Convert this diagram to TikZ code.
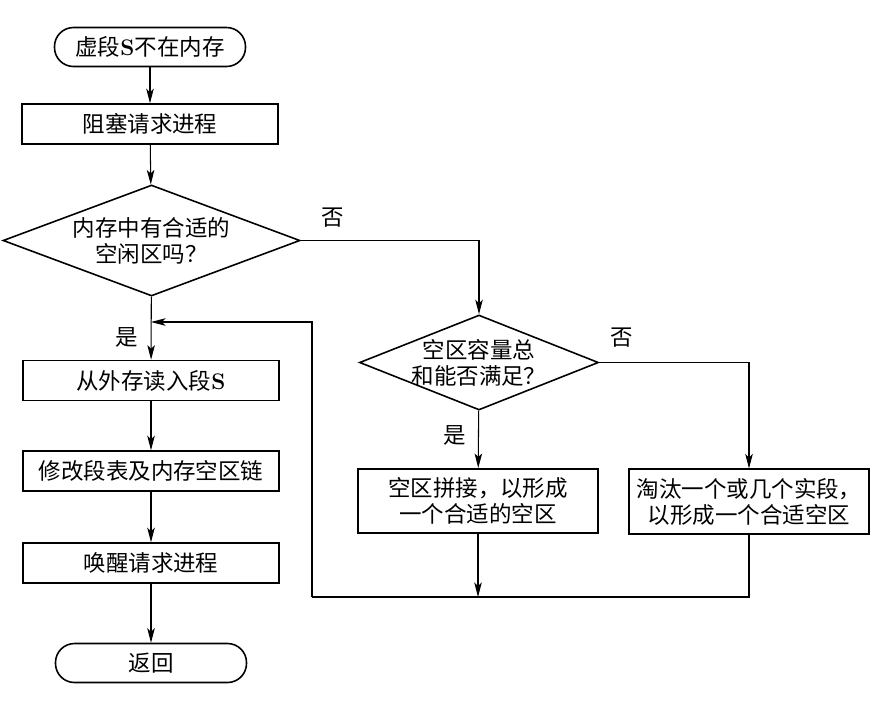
\documentclass[tikz,border=0pt]{standalone}
\usepackage{fontspec}
\newfontfamily\cjk{Noto Sans CJK SC}
\usepackage{tikz}
\usetikzlibrary{shapes.geometric,arrows.meta}

\begin{document}
\begin{tikzpicture}[
    every node/.style={font=\cjk\fontsize{12.8}{14.8}\selectfont},
    term/.style={rectangle,draw,line width=0.9pt,rounded corners=0.38cm,minimum width=3.82cm,minimum height=0.78cm,inner sep=1pt},
    proc/.style={rectangle,draw,line width=0.9pt,minimum width=5.12cm,minimum height=0.8cm,inner sep=1pt,align=center},
    wide/.style={proc,minimum width=4.8cm,minimum height=1.29cm},
    query/.style={diamond,draw,line width=0.9pt,inner sep=0pt,align=center},
    arrowline/.style={line width=0.6pt,-{Stealth[length=2.9mm,width=1.5mm,inset=0.7mm]}},
    plainline/.style={line width=0.6pt},
]
\useasboundingbox (0,0) rectangle (17.88,-14.54);
% left column
\node[term] (start) at (3.0,-0.94) {虚段{\rmfamily\bfseries S}不在内存};
\node[proc] (block) at (3.0,-2.48) {阻塞请求进程};
\node[query,minimum width=5.94cm,minimum height=2.22cm,aspect=2.676] (fit) at (3.03,-4.81)
  {内存中有合适的\\空闲区吗？};
\node[proc] (load) at (3.02,-7.61) {从外存读入段{\rmfamily\bfseries S}};
\node[proc] (table) at (3.02,-9.42) {修改段表及内存空区链};
\node[proc] (wake) at (3.02,-11.26) {唤醒请求进程};
\node[term] (ret) at (3.02,-13.26) {返回};
% right part
\node[query,minimum width=4.78cm,minimum height=1.9cm,aspect=2.516,inner xsep=-0.22cm] (total) at (9.58,-7.25)
  {空区容量总\\和能否满足？};
\node[wide] (compact) at (9.56,-10.02) {空区拼接，以形成\\一个合适的空区};
\node[wide] (evict) at (14.98,-10.03) {淘汰一个或几个实段，\\以形成一个合适空区};
\coordinate (join) at (9.56,-11.94);
\coordinate (corner) at (6.24,-11.94);
\coordinate (reentry) at (3.02,-6.44);
% labels
\node (no1) at (6.66,-4.36) {否};
\node (yes1) at (2.54,-6.74) {是};
\node (no2) at (12.44,-6.76) {否};
\node (yes2) at (9.1,-8.7) {是};
% connectors
\draw[arrowline] (start) -- (block);
\draw[arrowline] (block) -- (fit);
\draw[arrowline] (fit) -- (load);
\draw[arrowline] (load) -- (table);
\draw[arrowline] (table) -- (wake);
\draw[arrowline] (wake) -- (ret);
\draw[arrowline] (fit.east) -| (total.north);
\draw[arrowline] (total) -- (compact);
\draw[arrowline] (total.east) -| (evict.north);
\draw[arrowline] (compact) -- (join);
\draw[plainline] (evict.south) |- (join) -- (corner);
\draw[arrowline] (corner) |- (reentry);
\end{tikzpicture}
\end{document}
